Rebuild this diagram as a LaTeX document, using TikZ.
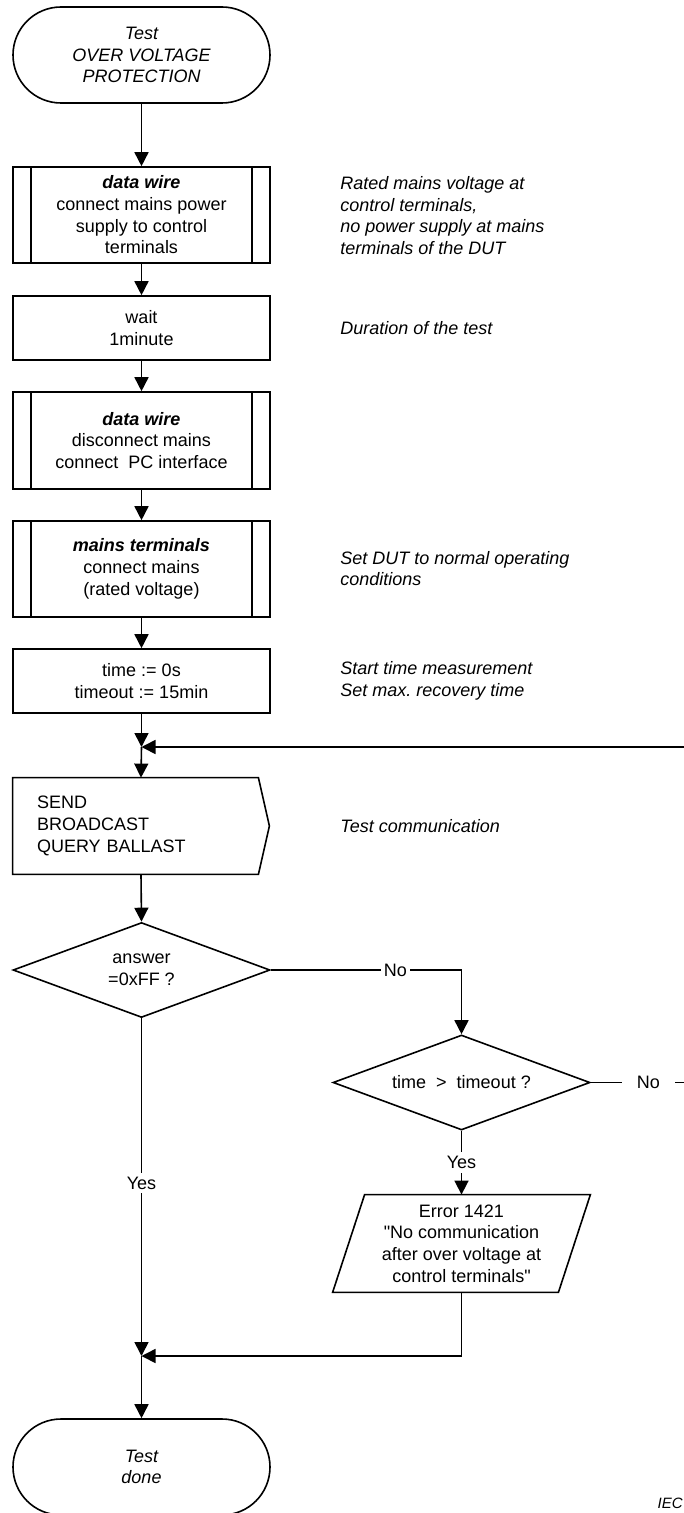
\documentclass[tikz,border=0pt]{standalone}
\usepackage{fontspec}
\setmainfont{Liberation Sans}
\newfontfamily\qfont{Liberation Sans}
\newcommand{\sq}{{\qfont"}}
\frenchspacing
\usetikzlibrary{arrows.meta,shapes.geometric,calc}
\begin{document}
\begin{tikzpicture}[x=0.5pt,y=-0.5pt,
  every node/.style={font=\fontsize{9}{10.85}\selectfont},
  line/.style={line width=0.8pt},
  arr/.style={line width=0.8pt,-{Triangle[length=7pt,width=7pt]}},
  proc/.style={draw,line width=0.8pt,rectangle,minimum width=128.5pt,inner sep=0pt,align=center},
  term/.style={draw,line width=0.8pt,rectangle,rounded corners=24pt,minimum width=128.5pt,minimum height=48pt,inner sep=0pt,align=center,font=\fontsize{9}{10.85}\selectfont\itshape},
  dec/.style={draw,line width=0.8pt,diamond,shape aspect=2.7,minimum width=128.5pt,minimum height=47.5pt,inner sep=0pt,align=center},
  note/.style={anchor=west,inner sep=0pt,align=left,font=\fontsize{9}{10.85}\selectfont\itshape},
  lbl/.style={fill=white,inner xsep=1.5pt,inner ysep=2pt},
]
\clip (0,0) rectangle (684,1513);

% nodes
\node[term] (start) at (141.5,55) {Test\\OVER VOLTAGE\\PROTECTION};
\node[proc,minimum height=48pt] (b1) at (141.5,215) {\textbf{\textit{data wire}}\\connect mains power\\supply to control\\terminals};
\node[proc,minimum height=32pt] (b2) at (141.5,328) {wait\\1minute};
\node[proc,minimum height=48.5pt] (b3) at (141.5,440.5) {\textbf{\textit{data wire}}\\disconnect mains\\connect\ \ PC interface};
\node[proc,minimum height=48pt] (b4) at (141.5,569) {\textbf{\textit{mains terminals}}\\connect mains\\(rated voltage)};
\node[proc,minimum height=32pt] (b5) at (141.5,681) {time := 0s\\timeout := 15min};

\foreach \b in {b1,b3,b4}{
  \draw[line] ([xshift=9.5pt]\b.north west) -- ([xshift=9.5pt]\b.south west);
  \draw[line] ([xshift=-9.5pt]\b.north east) -- ([xshift=-9.5pt]\b.south east);
}

\coordinate (m1) at (141.5,747);
\coordinate (rin) at (684,747);

\node[minimum height=48pt,text width=104pt,inner xsep=12pt,inner ysep=0pt,align=left] (send) at (141,826) {SEND\\BROADCAST\\QUERY BALLAST};
\draw[line] (send.north west) -- ([xshift=-5.5pt]send.north east) -- (send.east) -- ([xshift=-5.5pt]send.south east) -- (send.south west) -- cycle;

\node[dec] (d1) at (141.5,970) {answer\\=0xFF ?};
\node[dec] (d2) at (461.5,1082.5) {time\ \ >\ \ timeout ?};
\coordinate (rout) at (684,1082.5);

\node[minimum width=128.5pt,minimum height=48.5pt,inner sep=0pt,align=center] (err) at (461.5,1243.5) {Error 1421\\\sq No communication\\after over voltage at\\control terminals\sq};
\draw[line] ([xshift=16pt]err.north west) -- (err.north east) -- ([xshift=-16pt]err.south east) -- (err.south west) -- cycle;

\coordinate (m2) at (141.5,1356);
\node[term] (end) at (141.5,1467) {Test\\done};

% notes
\node[note] (n1) at (340,215.5) {Rated mains voltage at\\control terminals,\\no power supply at mains\\terminals of the DUT};
\node[note] (n2) at (340,328) {Duration of the test};
\node[note] (n3) at (340,568.5) {Set DUT to normal operating\\conditions};
\node[note] (n4) at (340,681) {Start time measurement\\Set max. recovery time};
\node[note] (n5) at (340,826) {Test communication};
\node[anchor=east,inner sep=0pt,font=\fontsize{7.5}{9}\selectfont\itshape] (iec) at (683,1503) {IEC};

% connectors
\draw[arr] (start) -- (b1);
\draw[arr] (b1) -- (b2);
\draw[arr] (b2) -- (b3);
\draw[arr] (b3) -- (b4);
\draw[arr] (b4) -- (b5);
\draw[arr] (b5) -- (m1);
\draw[arr] (m1) -- (send.north);
\draw[arr] (rin) -- (m1);
\draw[arr] (send.south) -- (d1.north);
\draw[arr] (d1.east) -- node[lbl,pos=0.653]{No} (d1.east -| d2.north) -- (d2.north);
\draw[line] (d2.east) -- node[lbl,pos=0.617,inner xsep=7.5pt]{No} (rout);
\draw[arr] (d1.south) -- node[lbl,pos=0.488]{Yes} (m2);
\draw[arr] (d2.south) -- node[lbl,pos=0.5]{Yes} (err.north);
\draw[arr] (err.south) -- (err.south |- m2) -- (m2);
\draw[arr] (m2) -- (end);
\end{tikzpicture}
\end{document}
